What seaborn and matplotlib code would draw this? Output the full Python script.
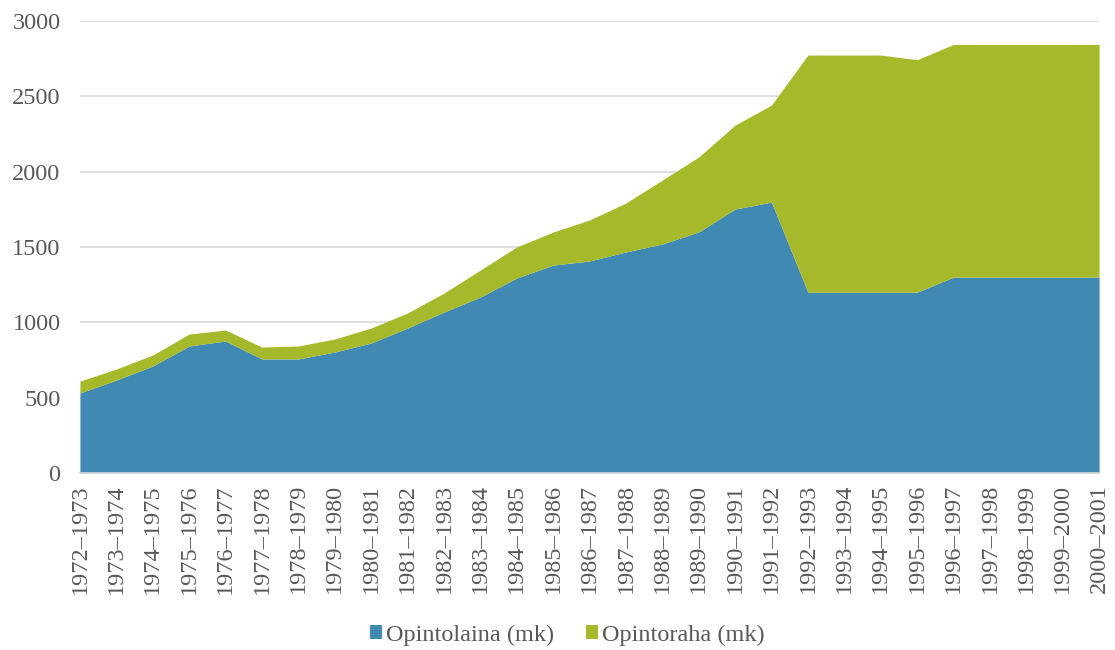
import matplotlib
matplotlib.use("Agg")
import matplotlib.pyplot as plt
import seaborn as sns
import pandas as pd
import numpy as np

years = ["1972–1973", "1973–1974", "1974–1975", "1975–1976", "1976–1977", "1977–1978",
         "1978–1979", "1979–1980", "1980–1981", "1981–1982", "1982–1983", "1983–1984",
         "1984–1985", "1985–1986", "1986–1987", "1987–1988", "1988–1989", "1989–1990",
         "1990–1991", "1991–1992", "1992–1993", "1993–1994", "1994–1995", "1995–1996",
         "1996–1997", "1997–1998", "1998–1999", "1999–2000", "2000–2001"]
opintolaina = [531, 617, 710, 843, 876, 757, 757, 803, 863, 962, 1068, 1168,
               1294, 1380, 1407, 1467, 1520, 1600, 1752, 1798, 1200, 1200, 1200, 1200,
               1300, 1300, 1300, 1300, 1300]
opintoraha = [79, 73, 73, 79, 73, 79, 86, 86, 99, 100, 126, 179,
              206, 219, 272, 325, 424, 497, 557, 644, 1574, 1574, 1574, 1543,
              1544, 1544, 1544, 1544, 1544]

df = pd.DataFrame({"vuosi": years, "Opintolaina (mk)": opintolaina, "Opintoraha (mk)": opintoraha})

sns.set_style("white")
plt.rcParams['font.family'] = ['Liberation Serif', 'DejaVu Serif']

blue = "#3F89B3"
green = "#A6B92A"
txt = "#595959"
fs = 17.5

fig, ax = plt.subplots(figsize=(11.15, 6.5), dpi=100)
fig.subplots_adjust(left=0.0717, right=0.9857, top=0.9677, bottom=0.2723)

x = np.arange(len(df))
ax.stackplot(x, df["Opintolaina (mk)"], df["Opintoraha (mk)"], colors=[blue, green],
             labels=["Opintolaina (mk)", "Opintoraha (mk)"], zorder=2, linewidth=0)

ax.set_xlim(0, len(df) - 1)
ax.set_ylim(0, 3000)
ax.set_yticks(range(0, 3001, 500))
ax.yaxis.grid(True, color="#D9D9D9", linewidth=1.2, zorder=0)
ax.set_axisbelow(True)

ax.set_xticks(x)
ax.set_xticklabels(df["vuosi"], rotation=90, fontsize=fs, color=txt)
ax.tick_params(axis="y", labelsize=fs, labelcolor=txt, length=0, pad=14)
ax.tick_params(axis="x", length=5, color="#D9D9D9", width=1.2, pad=3)

for s in ["left", "right", "top"]:
    ax.spines[s].set_visible(False)
ax.spines["bottom"].set_color("#D9D9D9")
ax.spines["bottom"].set_linewidth(1.2)

ax.legend(loc="center", bbox_to_anchor=(0.5085, 0.023), bbox_transform=fig.transFigure,
          ncol=2, frameon=False, fontsize=fs, labelcolor=txt, handlelength=0.5,
          handleheight=0.5, handletextpad=0.16, columnspacing=1.3)

fig.savefig("out.png", dpi=100)
